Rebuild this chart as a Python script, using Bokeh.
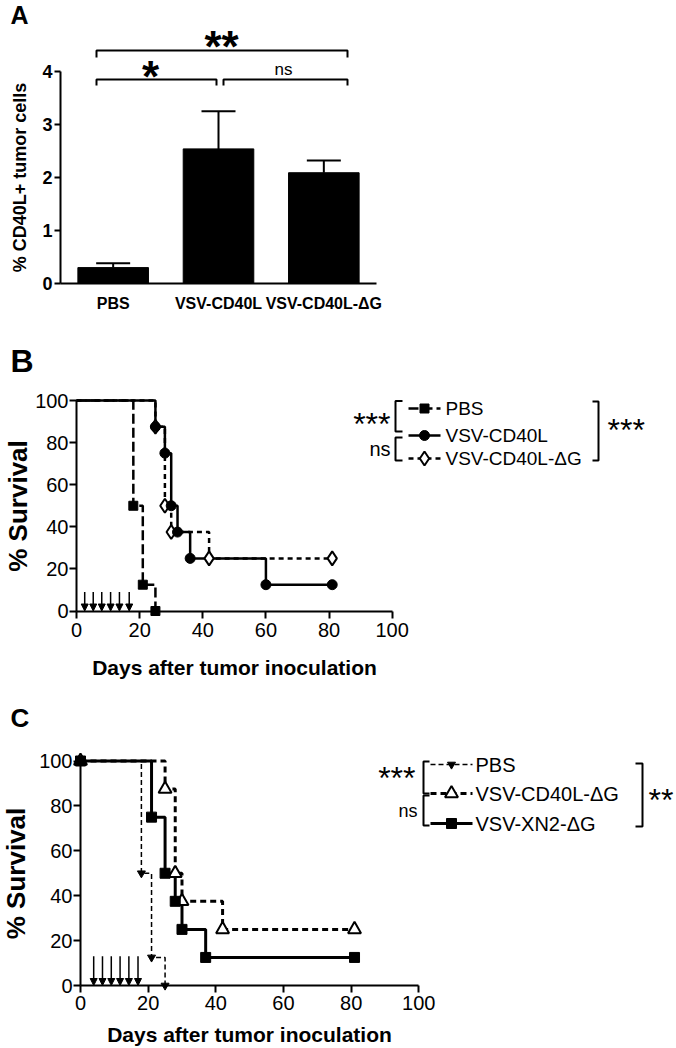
import numpy as np
from bokeh.plotting import figure
from bokeh.layouts import column
from bokeh.models import (Range1d, FixedTicker, ColumnDataSource, Whisker, TeeHead,
                          Arrow, NormalHead)
from bokeh.core.properties import value
from bokeh.embed import file_html
from bokeh.resources import INLINE

FONT = "Liberation Sans"

# ---------------- data ----------------
# Panel A
a_groups = ["PBS", "VSV-CD40L", "VSV-CD40L-\u0394G"]
a_means = [0.30, 2.54, 2.09]
a_sem = [0.08, 0.71, 0.23]
a_yticks = [0, 1, 2, 3, 4]

# Panel B (Kaplan-Meier)
b_pbs_t = [0, 18, 21, 25]
b_pbs_s = [100, 50, 12.5, 0]
b_cd_t = [0, 25, 28, 30, 32, 36, 60, 81]
b_cd_s = [100, 87.5, 75, 50, 37.5, 25, 12.5, 12.5]
b_dg_t = [0, 25, 28, 30, 42, 81]
b_dg_s = [100, 87.5, 50, 37.5, 25, 25]
b_treat_days = [2.6, 5.3, 8.0, 10.8, 13.6, 16.7]
b_names = ["PBS", "VSV-CD40L", "VSV-CD40L-\u0394G"]

# Panel C (Kaplan-Meier)
c_pbs_t = [0, 18, 21, 25]
c_pbs_s = [100, 50, 12.5, 0]
c_dg_t = [0, 25, 28, 30, 42, 81]
c_dg_s = [100, 87.5, 50, 37.5, 25, 25]
c_xn_t = [0, 21, 25, 28, 30, 37, 81]
c_xn_s = [100, 75, 50, 37.5, 25, 12.5, 12.5]
c_treat_days = [3.9, 6.5, 9.1, 11.7, 14.3, 17.0]
c_names = ["PBS", "VSV-CD40L-\u0394G", "VSV-XN2-\u0394G"]

surv_ticks = [0, 20, 40, 60, 80, 100]
day_ticks = [0, 20, 40, 60, 80, 100]

W = 676
PAGE_X0 = 0
PAGE_Y0 = 0


class Panel:
    """Figure whose frame fills the canvas; data<->page mapping."""

    def __init__(self, top, bottom, x0, sx, y0, sy):
        self.x0, self.sx, self.y0, self.sy = x0, sx, y0, sy
        h = bottom - top
        self.p = figure(width=W, height=h,
                        x_range=Range1d(self.fx(PAGE_X0), self.fx(PAGE_X0 + W)),
                        y_range=Range1d(self.fy(bottom), self.fy(top)),
                        min_border=0, toolbar_location=None, output_backend="svg")
        self.p.outline_line_color = None
        self.p.xgrid.visible = False
        self.p.ygrid.visible = False

    def fx(self, px):
        return (px - self.x0) / self.sx

    def fy(self, py):
        return (self.y0 - py) / self.sy


def txt(P, px, py, s, size, bold=False, align="left"):
    P.p.text(x=[P.fx(px)], y=[P.fy(py)], text=[s], text_font=value(FONT),
             text_font_size=size, text_font_style="bold" if bold else "normal",
             text_align=align, text_baseline="alphabetic", text_color="black")


def style_axis(ax, tick_size, bold_ticks, label_size):
    ax.fixed_location = 0
    ax.axis_line_width = 2
    ax.axis_line_color = "black"
    ax.major_tick_line_width = 2
    ax.major_tick_line_color = "black"
    ax.minor_tick_line_color = None
    ax.major_tick_in = 0
    ax.major_label_text_font = FONT
    ax.major_label_text_font_size = tick_size
    ax.major_label_text_font_style = "bold" if bold_ticks else "normal"
    ax.major_label_text_color = "black"
    ax.axis_label_text_font = FONT
    ax.axis_label_text_font_size = label_size
    ax.axis_label_text_font_style = "bold"
    ax.axis_label_text_color = "black"


def brackets(P, segs):
    P.p.multi_line(xs=[[P.fx(v) for v in s[0]] for s in segs],
                   ys=[[P.fy(v) for v in s[1]] for s in segs],
                   line_color="black", line_width=2)


# ---------------- Panel A ----------------
A = Panel(PAGE_Y0, 320, 60, 316 / len(a_groups), 283, 53.0)
pa = A.p
a_pos = [i + 0.5 for i in range(len(a_groups))]
a_src = ColumnDataSource(dict(x=a_pos, top=a_means,
                              upper=[m + s for m, s in zip(a_means, a_sem)]))
pa.vbar(x="x", top="top", bottom=0, width=0.67, source=a_src,
        fill_color="black", line_color="black")
pa.add_layout(Whisker(base="x", lower="top", upper="upper", source=a_src,
                      dimension="height", line_width=2, line_color="black",
                      upper_head=TeeHead(size=34, line_width=2, line_color="black"),
                      lower_head=None))

ya = pa.yaxis[0]
style_axis(ya, "18px", True, "18px")
ya.ticker = FixedTicker(ticks=a_yticks)
ya.bounds = (0, 4)
ya.axis_label = "% CD40L+ tumor cells"
ya.axis_label_standoff = 9
ya.major_tick_out = 6
ya.major_label_standoff = 2

xa = pa.xaxis[0]
style_axis(xa, "16px", True, "16px")
xa.ticker = FixedTicker(ticks=a_pos)
xa.bounds = (0, len(a_groups))
xa.major_label_overrides = {p: g for p, g in zip(a_pos, a_groups)}
xa.major_tick_out = 0
xa.major_label_standoff = 11

brackets(A, [([96, 96, 347, 347], [57, 50, 50, 57]),
             ([96, 96, 216, 216], [85, 79, 79, 85]),
             ([223, 223, 347, 347], [85, 79, 79, 85])])
txt(A, 221, 45.5, "**", "44px", bold=True, align="center")
txt(A, 150, 75.5, "*", "44px", bold=True, align="center")
txt(A, 283, 68.5, "ns", "17px", align="center")
txt(A, 10, 14, "A", "25px", bold=True)


# ---------------- survival panels ----------------
def km_axes(p, xlab_standoff, tick_standoff, ylab_standoff):
    xa = p.xaxis[0]
    style_axis(xa, "20px", False, "21px")
    xa.ticker = FixedTicker(ticks=day_ticks)
    xa.bounds = (0, 100)
    xa.axis_label = "Days after tumor inoculation"
    xa.major_tick_out = 7
    xa.major_label_standoff = tick_standoff
    xa.axis_label_standoff = xlab_standoff
    ya = p.yaxis[0]
    style_axis(ya, "20px", False, "26px")
    ya.ticker = FixedTicker(ticks=surv_ticks)
    ya.bounds = (0, 100)
    ya.axis_label = "% Survival"
    ya.major_tick_out = 7
    ya.major_label_standoff = 1
    ya.axis_label_standoff = ylab_standoff


def arrows(p, days, length):
    src = ColumnDataSource(dict(x=days, y0=[length] * len(days), y1=[0] * len(days)))
    p.add_layout(Arrow(x_start="x", y_start="y0", x_end="x", y_end="y1", source=src,
                       line_width=1.5, line_color="black",
                       end=NormalHead(size=7, fill_color="black", line_color="black",
                                      line_width=1)))


def marker(p, xs, ys, st):
    p.scatter(x=xs, y=ys, marker=st["marker"], size=st["size"],
              fill_color=st["fill"], line_color="black", line_width=st["mlw"])


def line_kw(st):
    kw = dict(line_color="black", line_width=st["lw"])
    if st["dash"]:
        kw["line_dash"] = st["dash"]
    return kw


def series_line(p, t, s, st):
    p.step(x=t, y=s, mode="after", **line_kw(st))


def legend(P, names, styles, rows, x0, x1, xtext, fs):
    for name, st, ry in zip(names, styles, rows):
        P.p.line(x=[P.fx(x0), P.fx(x1)], y=[P.fy(ry), P.fy(ry)], **line_kw(st))
        marker(P.p, [P.fx((x0 + x1) / 2)], [P.fy(ry)], st)
        txt(P, xtext, ry, name, fs)


# ---------------- Panel B ----------------
B = Panel(320, 680, 76, 3.157, 610.5, 2.105)
pb = B.p
km_axes(pb, 15, 5, -1)

b_pbs_st = dict(dash="10 4", lw=2.5, marker="square", size=9, fill="black", mlw=1)
b_cd_st = dict(dash=None, lw=2.5, marker="circle", size=10, fill="black", mlw=1)
b_dg_st = dict(dash="5 4", lw=2.5, marker="diamond", size=14, fill="white", mlw=2)

series_line(pb, b_pbs_t, b_pbs_s, b_pbs_st)
series_line(pb, b_dg_t, b_dg_s, b_dg_st)
series_line(pb, b_cd_t, b_cd_s, b_cd_st)
marker(pb, b_dg_t[1:], b_dg_s[1:], b_dg_st)
marker(pb, b_cd_t[1:], b_cd_s[1:], b_cd_st)
marker(pb, b_pbs_t[1:], b_pbs_s[1:], b_pbs_st)
arrows(pb, b_treat_days, 9)

legend(B, b_names, [b_pbs_st, b_cd_st, b_dg_st], [408, 435, 458], 408, 440, 445, "19px")
brackets(B, [([402, 395, 395, 402], [400.5, 400.5, 431, 431]),
             ([402, 395, 395, 402], [437, 437, 460, 460]),
             ([592, 598, 598, 592], [401, 401, 460, 460])])
txt(B, 390, 423, "***", "32px", align="right")
txt(B, 390, 448, "ns", "20px", align="right")
txt(B, 607, 429, "***", "32px")
txt(B, 10, 360, "B", "32px", bold=True)

# ---------------- Panel C ----------------
C = Panel(680, 1048, 80, 3.383, 985, 2.245)
pc = C.p
km_axes(pc, 10, 3, 5)

c_pbs_st = dict(dash="5 3", lw=1.5, marker="inverted_triangle", size=8, fill="black", mlw=1)
c_dg_st = dict(dash="6 4", lw=3, marker="triangle", size=13, fill="white", mlw=2)
c_xn_st = dict(dash=None, lw=3, marker="square", size=10, fill="black", mlw=1)

series_line(pc, c_pbs_t, c_pbs_s, c_pbs_st)
series_line(pc, c_dg_t, c_dg_s, c_dg_st)
series_line(pc, c_xn_t, c_xn_s, c_xn_st)
marker(pc, c_pbs_t, c_pbs_s, c_pbs_st)
marker(pc, c_dg_t, c_dg_s, c_dg_st)
marker(pc, c_xn_t, c_xn_s, c_xn_st)
arrows(pc, c_treat_days, 13)

legend(C, c_names, [c_pbs_st, c_dg_st, c_xn_st], [764, 793, 823], 430, 472, 475, "20px")
brackets(C, [([429, 423, 423, 429], [761, 761, 793, 793]),
             ([429, 423, 423, 429], [795, 795, 825, 825]),
             ([635, 642, 642, 635], [763, 763, 826, 826])])
txt(C, 415, 777, "***", "32px", align="right")
txt(C, 417, 810, "ns", "18px", align="right")
txt(C, 648, 799, "**", "32px")
txt(C, 10, 717.5, "C", "26px", bold=True)

layout = column(pa, pb, pc, spacing=0)
open("out.html", "w").write(file_html(layout, INLINE))
